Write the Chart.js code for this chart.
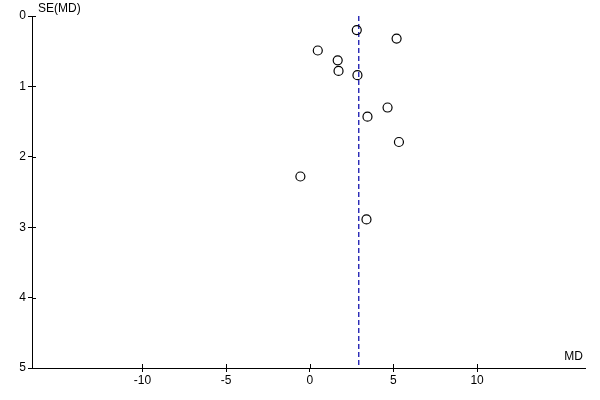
<!DOCTYPE html>
<html>
<head>
<meta charset="utf-8">
<script src="https://cdn.jsdelivr.net/npm/chart.js@4.4.1/dist/chart.umd.min.js"></script>
<style>
  html, body { margin: 0; padding: 0; background: #fff; }
  canvas { display: block; }
</style>
</head>
<body>
<canvas id="funnel" width="600" height="400"></canvas>
<script>
// study mean differences and their standard errors
const studyMD = [2.81, 5.19, 0.48, 1.67, 1.72, 2.85, 4.65, 3.45, 5.33, -0.56, 3.39];
const studySE = [0.20, 0.32, 0.49, 0.63, 0.78, 0.84, 1.30, 1.43, 1.79, 2.28, 2.89];
// pooled estimate (dashed line)
const pooledMD = 2.93;
const xTicks = [-10, -5, 0, 5, 10];
const yTicks = [0, 1, 2, 3, 4, 5];

const canvas = document.getElementById("funnel");
const fontFamily = "'Liberation Sans', Arial, sans-serif";

//draws the inner half of the tick marks and the two axis titles
const axisExtras = {
  id: "axisExtras",
  afterDraw(chart) {
    const ctx = chart.ctx;
    const area = chart.chartArea;
    const x = chart.scales.x;
    const y = chart.scales.y;
    ctx.save();
    ctx.strokeStyle = "#000";
    ctx.lineWidth = 1;
    ctx.beginPath();
    for (let v of yTicks) {
      const py = Math.round(y.getPixelForValue(v)) + 0.5;
      ctx.moveTo(area.left, py);
      ctx.lineTo(area.left + 4, py);
    }
    for (let v of xTicks) {
      const px = Math.round(x.getPixelForValue(v)) + 0.5;
      ctx.moveTo(px, area.bottom);
      ctx.lineTo(px, area.bottom - 4);
    }
    ctx.stroke();
    ctx.fillStyle = "#000";
    ctx.font = "12px " + fontFamily;
    ctx.textBaseline = "middle";
    ctx.textAlign = "left";
    ctx.fillText("SE(MD)", area.left + 6, 9);
    ctx.textAlign = "right";
    ctx.fillText("MD", area.right - 2, area.bottom - 11);
    ctx.restore();
  },
};

const points = studyMD.map((md, i) => ({ x: md, y: studySE[i] }));

const config = {
  type: "scatter",
  data: {
    datasets: [
      {
        label: "Studies",
        data: points,
        pointStyle: "circle",
        pointRadius: 4.5,
        pointBorderWidth: 1.2,
        pointBorderColor: "#000",
        pointBackgroundColor: "rgba(255,255,255,0)",
        showLine: false,
      },
      {
        label: "Pooled",
        type: "line",
        data: [
          { x: pooledMD, y: 0 },
          { x: pooledMD, y: 5 },
        ],
        borderColor: "#0000a8",
        borderWidth: 1.2,
        borderDash: [5, 3],
        pointRadius: 0,
        fill: false,
      },
    ],
  },
  options: {
    responsive: false,
    animation: false,
    layout: { padding: { top: 16, right: 15, left: 0, bottom: 0 } },
    plugins: {
      legend: { display: false },
      tooltip: { enabled: false },
    },
    scales: {
      x: {
        type: "linear",
        min: -16.6,
        max: 16.45,
        afterBuildTicks: (scale) => {
          scale.ticks = xTicks.map((v) => ({ value: v }));
        },
        afterFit: (scale) => {
          scale.height = 32;
        },
        grid: {
          drawOnChartArea: false,
          drawTicks: true,
          tickLength: 4,
          color: "#000",
        },
        border: { display: true, color: "#000", width: 1 },
        ticks: {
          color: "#000",
          padding: 1,
          maxRotation: 0,
          font: { family: fontFamily, size: 12 },
        },
      },
      y: {
        type: "linear",
        reverse: true,
        min: 0,
        max: 5,
        afterBuildTicks: (scale) => {
          scale.ticks = yTicks.map((v) => ({ value: v }));
        },
        afterFit: (scale) => {
          scale.width = 32;
        },
        grid: {
          drawOnChartArea: false,
          drawTicks: true,
          tickLength: 4,
          color: "#000",
        },
        border: { display: true, color: "#000", width: 1 },
        ticks: {
          color: "#000",
          padding: 2,
          font: { family: fontFamily, size: 12 },
        },
      },
    },
  },
  plugins: [axisExtras],
};

let funnelChart = new Chart(canvas, config);
</script>
</body>
</html>
